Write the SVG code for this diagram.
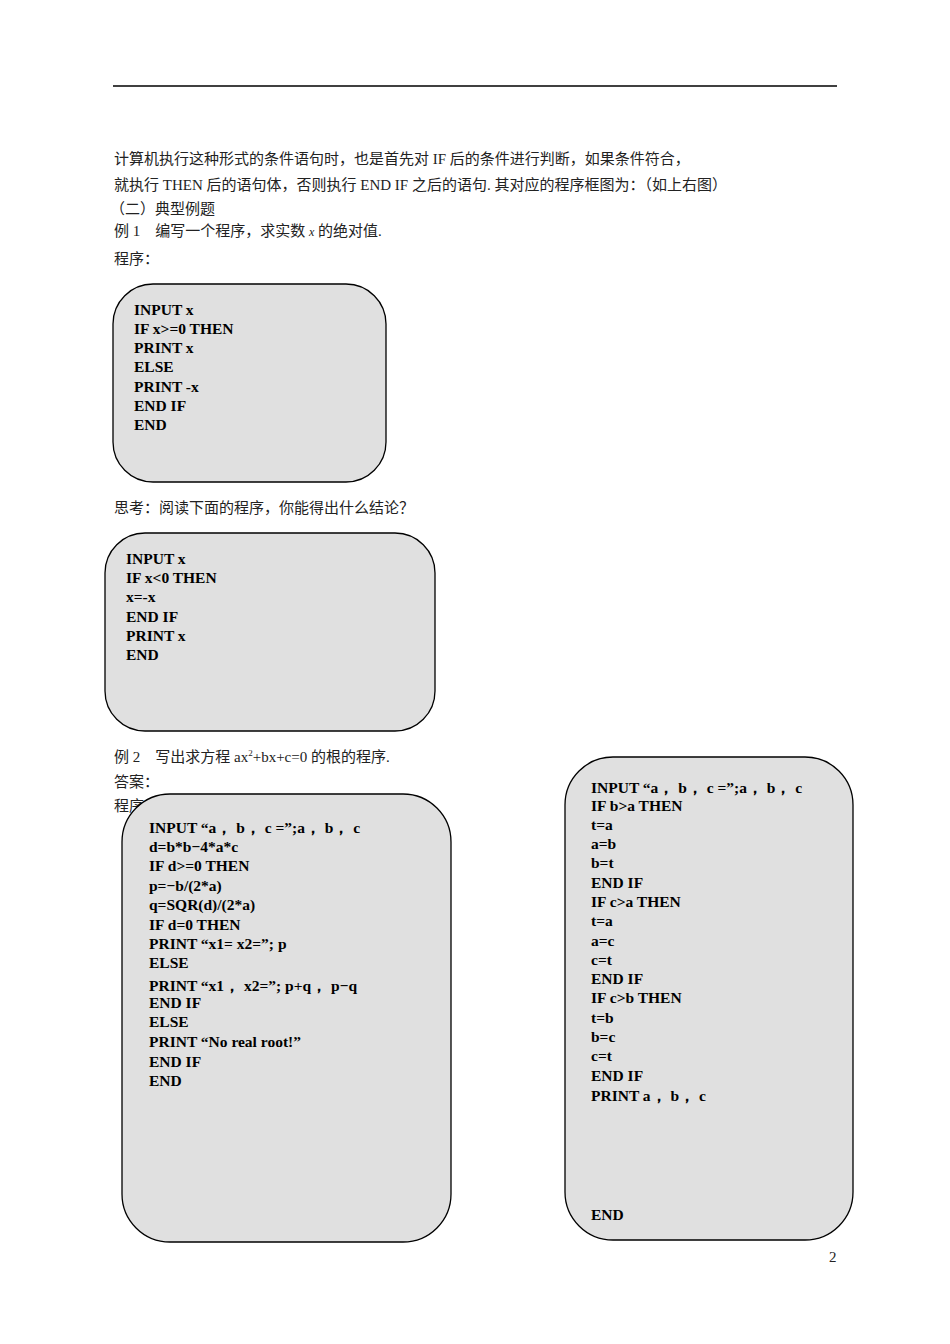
<svg xmlns="http://www.w3.org/2000/svg" width="950" height="1344" viewBox="0 0 950 1344">
<style>
.t{font-family:"Liberation Serif","Noto Sans CJK SC",serif;font-size:15px;fill:#222}
.c{font-family:"Liberation Serif",serif;font-size:15.5px;font-weight:bold;fill:#000}
.b{fill:#e0e0e0;stroke:#000;stroke-width:1.3}
</style>
<rect width="950" height="1344" fill="#fff"/>
<line x1="113" y1="86" x2="837" y2="86" stroke="#000" stroke-width="1.3"/>
<g id="para">
<text class="t" x="114" y="164">计算机执行这种形式的条件语句时，也是首先对 IF 后的条件进行判断，如果条件符合，</text>
<text class="t" x="114" y="190">就执行 THEN 后的语句体，否则执行 END IF 之后的语句. 其对应的程序框图为：（如上右图）</text>
<text class="t" x="110" y="214">（二）典型例题</text>
<text class="t" x="114" y="236">例 1　编写一个程序，求实数 <tspan font-style="italic" font-size="12">x</tspan> 的绝对值.</text>
<text class="t" x="114" y="264">程序：</text>
<text class="t" x="114" y="513">思考：阅读下面的程序，你能得出什么结论？</text>
<text class="t" x="114" y="762">例 2　写出求方程 ax<tspan font-size="9" dy="-6">2</tspan><tspan dy="6">+bx+c=0 的根的程序.</tspan></text>
<text class="t" x="114" y="787">答案：</text>
<text class="t" x="114" y="811">程序</text>
</g>
<g id="box1">
<rect class="b" x="113" y="284" width="273" height="198" rx="40"/>
<text class="c" x="134" y="315">INPUT  x</text>
<text class="c" x="134" y="334">IF  x&gt;=0  THEN</text>
<text class="c" x="134" y="353">PRINT  x</text>
<text class="c" x="134" y="372">ELSE</text>
<text class="c" x="134" y="392">PRINT  -x</text>
<text class="c" x="134" y="411">END IF</text>
<text class="c" x="134" y="430">END</text>
</g>
<g id="box2">
<rect class="b" x="105" y="533" width="330" height="198" rx="40"/>
<text class="c" x="126" y="564">INPUT  x</text>
<text class="c" x="126" y="583">IF  x&lt;0  THEN</text>
<text class="c" x="126" y="602">x=-x</text>
<text class="c" x="126" y="622">END IF</text>
<text class="c" x="126" y="641">PRINT  x</text>
<text class="c" x="126" y="660">END</text>
</g>
<g id="box3">
<rect class="b" x="122" y="794" width="329" height="448" rx="48"/>
<text class="c" x="149" y="833">INPUT  “a， b， c =”;a， b， c</text>
<text class="c" x="149" y="852">d=b*b−4*a*c</text>
<text class="c" x="149" y="871">IF  d&gt;=0  THEN</text>
<text class="c" x="149" y="891">p=−b/(2*a)</text>
<text class="c" x="149" y="910">q=SQR(d)/(2*a)</text>
<text class="c" x="149" y="930">IF  d=0  THEN</text>
<text class="c" x="149" y="949">PRINT “x1= x2=”; p</text>
<text class="c" x="149" y="968">ELSE</text>
<text class="c" x="149" y="991">PRINT “x1， x2=”; p+q， p−q</text>
<text class="c" x="149" y="1008">END IF</text>
<text class="c" x="149" y="1027">ELSE</text>
<text class="c" x="149" y="1047">PRINT  “No real root!”</text>
<text class="c" x="149" y="1067">END IF</text>
<text class="c" x="149" y="1086">END</text>
</g>
<g id="box4">
<rect class="b" x="565" y="757" width="288" height="483" rx="48"/>
<text class="c" x="591" y="793">INPUT “a， b， c =”;a， b， c</text>
<text class="c" x="591" y="811">IF  b&gt;a  THEN</text>
<text class="c" x="591" y="830">t=a</text>
<text class="c" x="591" y="849">a=b</text>
<text class="c" x="591" y="868">b=t</text>
<text class="c" x="591" y="888">END IF</text>
<text class="c" x="591" y="907">IF  c&gt;a  THEN</text>
<text class="c" x="591" y="926">t=a</text>
<text class="c" x="591" y="946">a=c</text>
<text class="c" x="591" y="965">c=t</text>
<text class="c" x="591" y="984">END IF</text>
<text class="c" x="591" y="1003">IF  c&gt;b  THEN</text>
<text class="c" x="591" y="1023">t=b</text>
<text class="c" x="591" y="1042">b=c</text>
<text class="c" x="591" y="1061">c=t</text>
<text class="c" x="591" y="1081" font-weight="normal">END IF</text>
<text class="c" x="591" y="1101">PRINT a， b， c</text>
<text class="c" x="591" y="1220" font-size="34">END</text>
</g>
<text class="t" x="829" y="1262" font-size="13">2</text>
</svg>
